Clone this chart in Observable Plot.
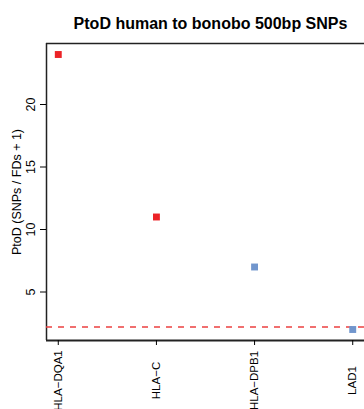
<!DOCTYPE html>
<html>
<head>
<meta charset="utf-8">
<script src="https://cdn.jsdelivr.net/npm/d3@7"></script>
<script src="https://cdn.jsdelivr.net/npm/@observablehq/plot@0.6"></script>
<style>
  html, body { margin: 0; padding: 0; background: #fff; overflow: hidden; width: 364px; height: 409px; }
</style>
</head>
<body>
<div id="chart"></div>
<script>
const title = "PtoD human to bonobo 500bp SNPs";
const yLabel = "PtoD (SNPs / FDs + 1)";
const categories = ["HLA\u2212DQA1", "HLA\u2212C", "HLA\u2212DPB1", "LAD1"];
const values = [24, 11, 7, 2];
const pointColors = ["#ec2327", "#ec2327", "#7196cd", "#7196cd"];
const yTicks = [5, 10, 15, 20];
const threshold = 2.2;

const data = categories.map((c, i) => ({idx: i + 1, name: c, value: values[i], color: pointColors[i]}));
const xDomain = [1 - 0.04 * (categories.length - 1), categories.length + 0.04 * (categories.length - 1)];
const yMin = d3.min(values), yMax = d3.max(values);
const yPad = 0.04 * (yMax - yMin);
const yDomain = [yMin - yPad, yMax + yPad];

const font = "'Liberation Sans', Arial, Helvetica, sans-serif";

const chart = Plot.plot({
  width: 364,
  height: 409,
  marginLeft: 46,
  marginRight: 0,
  marginTop: 43,
  marginBottom: 69,
  style: {fontFamily: font, fontSize: "12px", color: "#000", background: "#fff"},
  x: {domain: xDomain, axis: null},
  y: {domain: yDomain, axis: null},
  marks: [
    // frame lines (left, top, bottom)
    Plot.ruleX([xDomain[0]], {stroke: "#222", strokeWidth: 1.5}),
    Plot.ruleY([yDomain[1]], {stroke: "#222", strokeWidth: 1.5}),
    Plot.ruleY([yDomain[0]], {stroke: "#222", strokeWidth: 1.8}),
    // threshold
    Plot.ruleY([threshold], {stroke: "#ec4040", strokeWidth: 1.4, strokeDasharray: "6,6"}),
    // y axis
    Plot.axisY({ticks: yTicks, tickSize: 6, tickFormat: () => "", anchor: "left", label: null}),
    Plot.text(yTicks, {y: d => d, text: d => String(d), frameAnchor: "left", dx: -15.5, rotate: -90, textAnchor: "middle", lineAnchor: "middle", fontSize: 12.5, fill: "#000"}),
    // x axis
    Plot.axisX({ticks: data.map(d => d.idx), tickSize: 5, tickFormat: () => "", anchor: "bottom", label: null}),
    Plot.text(data, {x: "idx", text: "name", frameAnchor: "bottom", dy: 40, rotate: -90, textAnchor: "middle", lineAnchor: "middle", fontSize: 11.5, fill: "#000"}),
    // points
    Plot.dot(data, {x: "idx", y: "value", symbol: "square", r: 3.9, fill: d => d.color, stroke: null}),
    // y label
    Plot.text([yLabel], {frameAnchor: "left", dx: -30, rotate: -90, textAnchor: "middle", lineAnchor: "middle", fontSize: 12.5, fill: "#000"}),
    // title
    Plot.text([title], {frameAnchor: "top", dx: 5, dy: -20, textAnchor: "middle", lineAnchor: "middle", fontSize: 16, fontWeight: "bold", fill: "#000"})
  ]
});
document.getElementById("chart").appendChild(chart);
</script>
</body>
</html>
